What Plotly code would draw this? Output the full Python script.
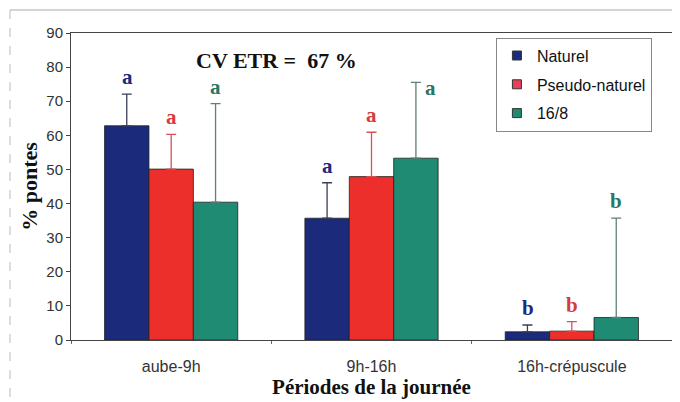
import plotly.graph_objects as go

categories = ["aube-9h", "9h-16h", "16h-crépuscule"]
series_names = ["Naturel", "Pseudo-naturel", "16/8"]
naturel = [62.8, 35.7, 2.4]
pseudo = [50.1, 47.9, 2.6]
seize_huit = [40.4, 53.3, 6.6]
err_naturel = [9.3, 10.4, 2.0]
err_pseudo = [10.2, 13.0, 2.8]
err_seize_huit = [28.9, 22.2, 29.1]
letters_naturel = ["a", "a", "b"]
letters_pseudo = ["a", "a", "b"]
letters_seize_huit = ["a", "a", "b"]
title_text = "CV ETR =  67 %"
y_ticks = [0, 10, 20, 30, 40, 50, 60, 70, 80, 90]

values = [naturel, pseudo, seize_huit]
errors = [err_naturel, err_pseudo, err_seize_huit]
letters = [letters_naturel, letters_pseudo, letters_seize_huit]
colors = ["#1c2a7c", "#ec2f2a", "#1f8b72"]
legend_colors = ["#1c2a7c", "#e8405a", "#1f8b72"]
err_colors = ["#3a3f55", "#d8505a", "#5f7f78"]
letter_colors = ["#1c2a7c", "#d83b3b", "#2a7563"]

fig = go.Figure()
for i in range(3):
    fig.add_trace(go.Bar(
        x=categories, y=values[i], name=series_names[i],
        showlegend=False,
        marker=dict(color=colors[i], line=dict(color="#222", width=0.8)),
        error_y=dict(type="data", symmetric=False, array=errors[i],
                     arrayminus=[0] * 3, color=err_colors[i],
                     thickness=1.3, width=5),
    ))
# legend entries (small squares like the original)
for i in range(3):
    fig.add_trace(go.Scatter(
        x=[None], y=[None], mode="markers", name=series_names[i],
        legendgroup=series_names[i],
        marker=dict(symbol="square", size=9, color=legend_colors[i],
                    line=dict(color="#333", width=1)),
    ))

annotations = []
bar_w_px = 44
letter_font = "Liberation Serif"
for i in range(3):
    for j, cat in enumerate(categories):
        top = values[i][j] + errors[i][j]
        xs = (i - 1) * bar_w_px
        if top > 74:
            annotations.append(dict(x=cat, y=top, xref="x", yref="y",
                                    text="<b>%s</b>" % letters[i][j],
                                    showarrow=False, xshift=xs + 15, yshift=-6,
                                    font=dict(family=letter_font, size=21, color=letter_colors[i]),
                                    yanchor="middle"))
        else:
            annotations.append(dict(x=cat, y=top, xref="x", yref="y",
                                    text="<b>%s</b>" % letters[i][j],
                                    showarrow=False, xshift=xs, yshift=3,
                                    font=dict(family=letter_font, size=21, color=letter_colors[i]),
                                    yanchor="bottom"))

annotations.append(dict(x=0.342, y=0.912, xref="paper", yref="paper",
                        text="<b>%s</b>" % title_text, showarrow=False,
                        xanchor="center", yanchor="middle",
                        font=dict(family="Liberation Serif", size=22, color="#111")))

fig.update_layout(
    width=680, height=402,
    margin=dict(l=63, r=16, t=25, b=70),
    paper_bgcolor="white", plot_bgcolor="white",
    barmode="group", bargap=0.335, bargroupgap=0,
    showlegend=True,
    legend=dict(x=0.707, y=0.985, xanchor="left", yanchor="top",
                bordercolor="#888", borderwidth=1, bgcolor="white",
                font=dict(family="Liberation Sans", size=16, color="#111"),
                tracegroupgap=5, itemwidth=30),
    annotations=annotations,
    font=dict(family="Liberation Sans"),
)
fig.update_yaxes(range=[0, 90], tickvals=y_ticks, showgrid=False, zeroline=False,
                 showline=True, linecolor="#444", linewidth=1, mirror=True,
                 ticks="outside", ticklen=4, tickcolor="#444",
                 tickfont=dict(family="Liberation Sans", size=15, color="#333"),
                 title=dict(text="<b>% pontes</b>", standoff=2,
                            font=dict(family="Liberation Serif", size=22, color="#111")))
fig.update_xaxes(showgrid=False, showline=True, linecolor="#444", linewidth=1, mirror=True,
                 ticks="outside", ticklen=3, tickcolor="#666", tickson="boundaries",
                 ticklabelstandoff=12,
                 tickfont=dict(family="Liberation Sans", size=16, color="#333"),
                 title=dict(text="<b>Périodes de la journée</b>", standoff=4,
                            font=dict(family="Liberation Serif", size=21, color="#111")))

# outer frame of the original figure
fig.add_shape(type="line", xref="paper", yref="paper",
              x0=(10 - 71) / 601, x1=(676 - 71) / 601, y0=(340 - 10) / 307, y1=(340 - 10) / 307,
              line=dict(color="#aaa", width=1))
fig.add_shape(type="line", xref="paper", yref="paper",
              x0=(10 - 71) / 601, x1=(10 - 71) / 601, y0=(340 - 10) / 307, y1=(340 - 410) / 307,
              line=dict(color="#bbb", width=1, dash="dash"))

fig.write_html("out.html")
